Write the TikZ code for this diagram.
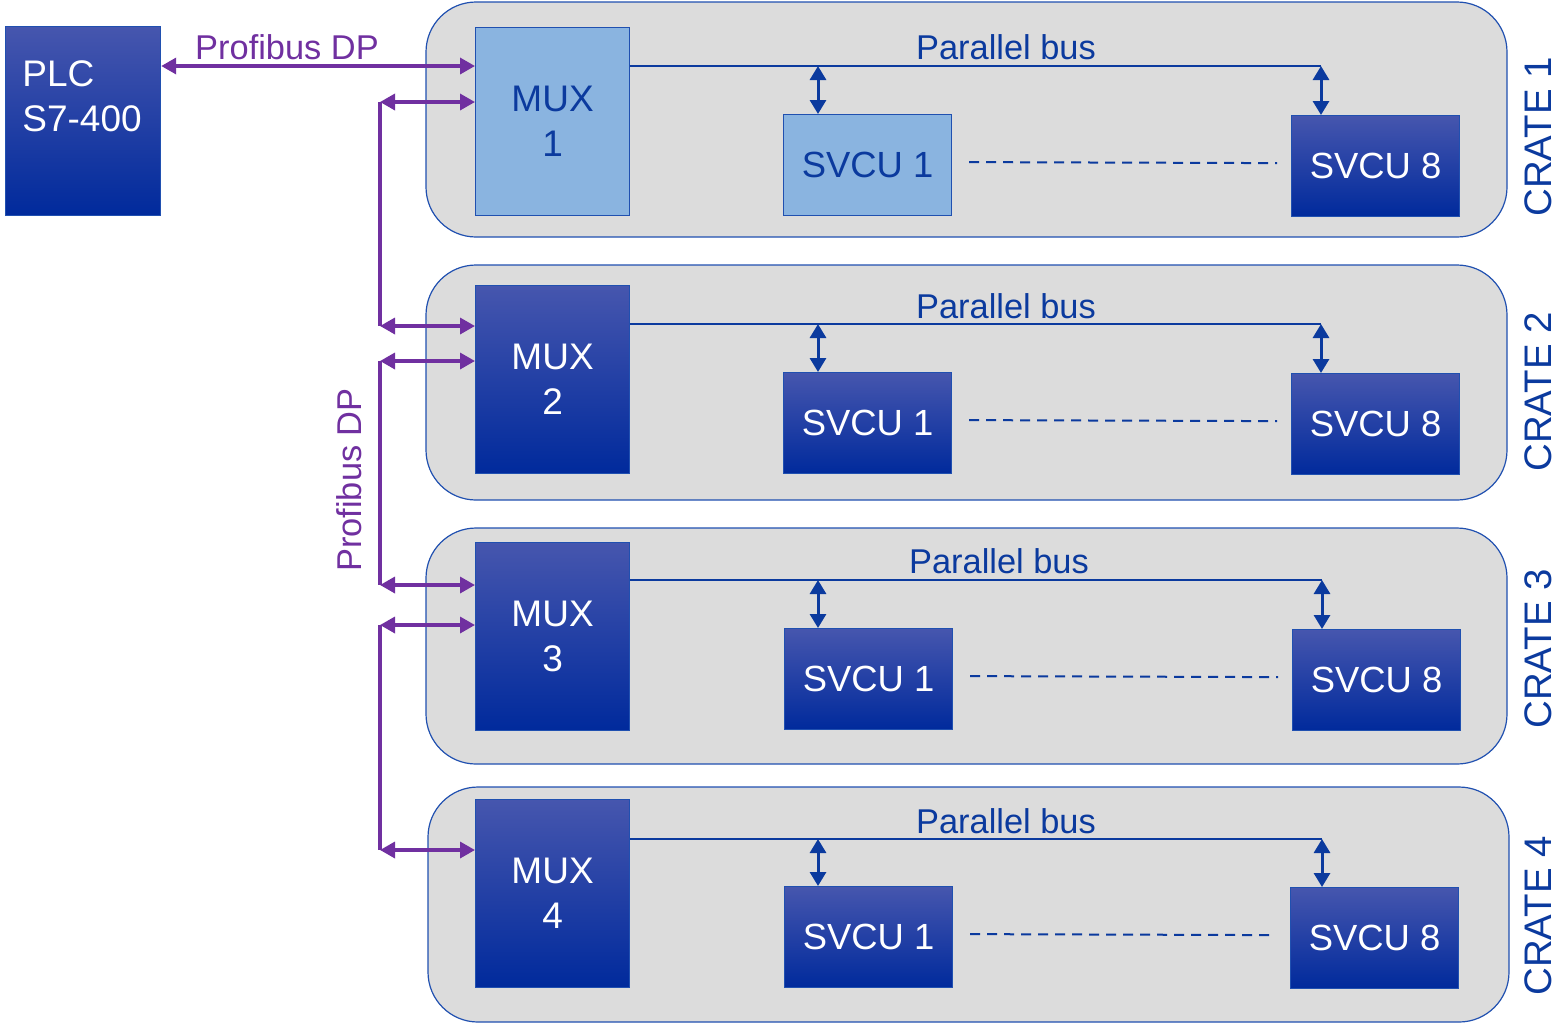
\documentclass[tikz,border=0pt]{standalone}
\usepackage{fontspec}
\setmainfont{Liberation Sans}
\usetikzlibrary{arrows.meta,calc}
\definecolor{pp}{HTML}{7030A0}
\definecolor{tblue}{HTML}{0B3A9E}
\definecolor{cborder}{HTML}{2050B0}
\definecolor{cgray}{HTML}{DCDCDC}
\definecolor{lblue}{HTML}{8AB4E0}
\definecolor{gtop}{HTML}{4656AE}
\definecolor{gmid}{HTML}{0A32A4}
\definecolor{gbot}{HTML}{002A9C}
\tikzset{
  crate/.style={draw=cborder, fill=cgray, rounded corners=25pt, line width=0.6pt},
  boxbase/.style={draw=cborder, line width=0.6pt, inner sep=0pt, anchor=north west, align=center},
  darkbox/.style={boxbase, top color=gtop, middle color=gmid, bottom color=gbot, text=white},
  lightbox/.style={boxbase, fill=lblue, text=tblue},
  muxbox/.style={minimum width=77pt, minimum height=94pt, font=\fontsize{18.5pt}{22.5pt}\selectfont},
  svcubox/.style={minimum width=84pt, minimum height=50.5pt, font=\fontsize{18.2pt}{21pt}\selectfont},
  busline/.style={draw=tblue, line width=1pt},
  bidir/.style={draw=tblue, line width=1.5pt, {Triangle[length=7pt,width=8pt]}-{Triangle[length=7pt,width=8pt]}},
  dashline/.style={draw=tblue, line width=1pt, dash pattern=on 5pt off 3.5pt},
  buslabel/.style={text=tblue, font=\fontsize{17.2pt}{20pt}\selectfont, inner sep=0pt},
  cratelabel/.style={text=tblue, font=\fontsize{19.2pt}{22pt}\selectfont, rotate=90, inner sep=0pt},
  pline/.style={draw=pp, line width=1.7pt},
  parrow/.style={pline, {Triangle[length=7.5pt,width=8pt]}-{Triangle[length=7.5pt,width=8pt]}},
  plabel/.style={text=pp, font=\fontsize{17.2pt}{20pt}\selectfont, inner sep=0pt},
}
\begin{document}
\begin{tikzpicture}[x=0.5pt,y=-0.5pt]
\useasboundingbox (0,0) rectangle (1557,1024);
% crates
\draw[crate] (426,2) rectangle (1507,237);
\draw[crate] (426,265) rectangle (1507,500);
\draw[crate] (426,528) rectangle (1507,764);
\draw[crate] (428,787) rectangle (1509,1022);
% PLC
\node[darkbox, minimum width=77.5pt, minimum height=94.5pt] (plc) at (5,26) {};
\node[text=white, align=left, anchor=north west, inner sep=0pt, font=\fontsize{18.5pt}{22.5pt}\selectfont] (plctext) at (22,60) {PLC\\S7-400};
% MUX
\node[lightbox, muxbox] (mux1) at (475,27) {MUX\\1};
\node[darkbox, muxbox] (mux2) at (475,285) {MUX\\2};
\node[darkbox, muxbox] (mux3) at (475,542) {MUX\\3};
\node[darkbox, muxbox] (mux4) at (475,799) {MUX\\4};
% SVCU
\node[lightbox, svcubox] (s11) at (783,114) {SVCU 1};
\node[darkbox, svcubox] (s18) at (1291,115) {SVCU 8};
\node[darkbox, svcubox] (s21) at (783,372) {SVCU 1};
\node[darkbox, svcubox] (s28) at (1291,373) {SVCU 8};
\node[darkbox, svcubox] (s31) at (784,628) {SVCU 1};
\node[darkbox, svcubox] (s38) at (1292,629) {SVCU 8};
\node[darkbox, svcubox] (s41) at (784,886) {SVCU 1};
\node[darkbox, svcubox] (s48) at (1290,887) {SVCU 8};
% bus coordinates
\coordinate (bus1) at (1321,66);
\coordinate (bus2) at (1321,324);
\coordinate (bus3) at (1322,580);
\coordinate (bus4) at (1322,839);
\foreach \i/\dx/\ex in {1/35/30, 2/35/30, 3/34/30, 4/34/32}{
  \coordinate (t\i a) at ($(s\i1.north west)+(\dx,0)$);
  \coordinate (t\i b) at ($(s\i8.north west)+(\ex,0)$);
  \draw[busline] (mux\i.east |- bus\i) -- (bus\i);
  \draw[bidir] (t\i a |- bus\i) -- (t\i a);
  \draw[bidir] (bus\i) -- (t\i b);
  \draw[dashline] ($(s\i1.east)+(17,-3)$) -- ($(s\i8.west)+(-14,-3)$);
}
% bus labels
\node[buslabel] (pb1) at (1006,47) {Parallel bus};
\node[buslabel] (pb2) at (1006,306) {Parallel bus};
\node[buslabel] (pb3) at (999,561) {Parallel bus};
\node[buslabel] (pb4) at (1006,821) {Parallel bus};
% crate labels
\node[cratelabel] (cr1) at (1538,137) {CRATE 1};
\node[cratelabel] (cr2) at (1538,392) {CRATE 2};
\node[cratelabel] (cr3) at (1538,649) {CRATE 3};
\node[cratelabel] (cr4) at (1538,916) {CRATE 4};
% Profibus
\draw[parrow] (plc.east |- bus1) -- (mux1.west |- bus1);
\node[plabel] (pdp) at (287,47) {Profibus DP};
\coordinate (k1) at (380,102);
\coordinate (k2) at (380,326);
\coordinate (k3) at (380,361);
\coordinate (k4) at (380,585);
\coordinate (k5) at (380,625);
\coordinate (k6) at (380,850);
\draw[pline] (k1) -- (k2);
\draw[pline] (k3) -- (k4);
\draw[pline] (k5) -- (k6);
\draw[parrow] (k1) -- (mux1.west |- k1);
\draw[parrow] (k2) -- (mux2.west |- k2);
\draw[parrow] (k3) -- (mux2.west |- k3);
\draw[parrow] (k4) -- (mux3.west |- k4);
\draw[parrow] (k5) -- (mux3.west |- k5);
\draw[parrow] (k6) -- (mux4.west |- k6);
\node[plabel, rotate=90] (pdpv) at (349,480) {Profibus DP};
\end{tikzpicture}
\end{document}
